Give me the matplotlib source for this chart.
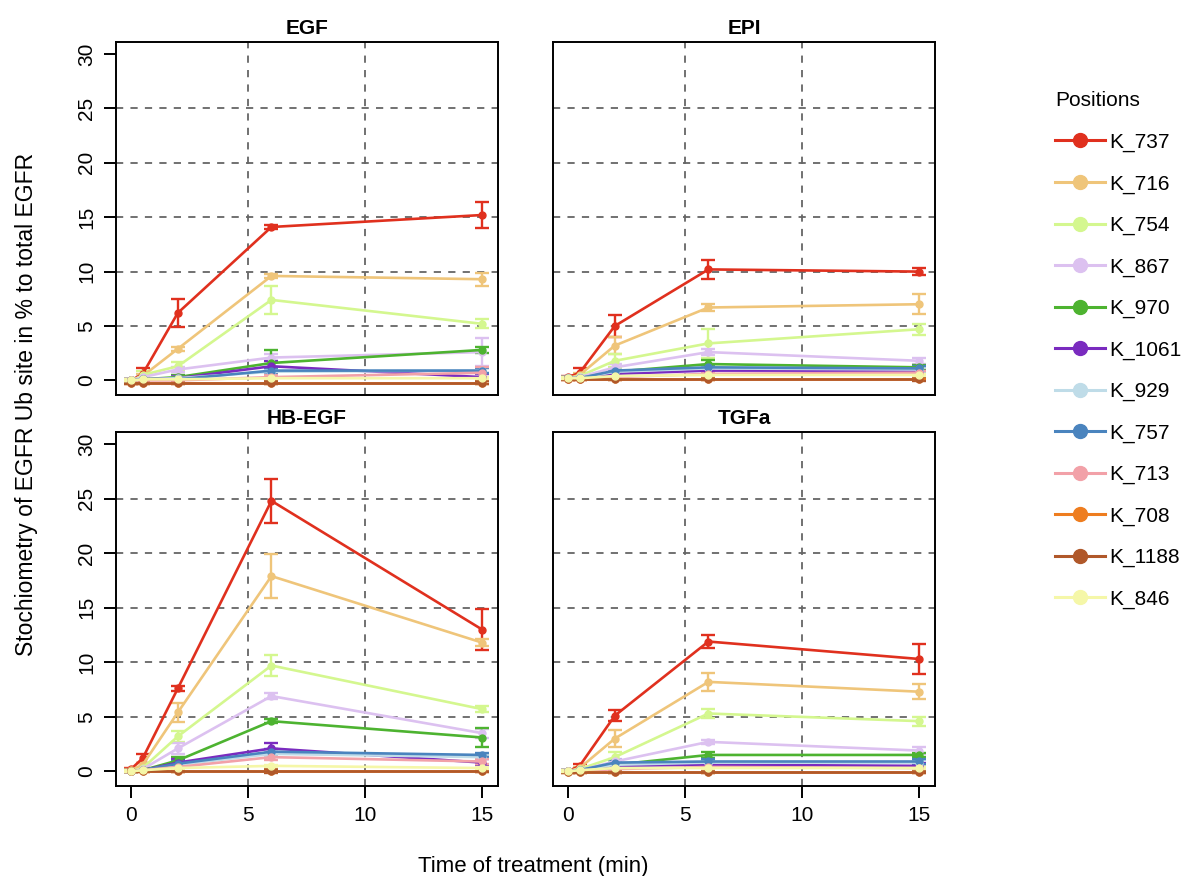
import matplotlib
matplotlib.use('Agg')
import matplotlib.pyplot as plt
from matplotlib.lines import Line2D

plt.rcParams['font.family'] = ['Liberation Sans', 'DejaVu Sans']

# Data
positions = ['K_737', 'K_716', 'K_754', 'K_867', 'K_970', 'K_1061',
             'K_929', 'K_757', 'K_713', 'K_708', 'K_1188', 'K_846']
colors = ['#E0301E', '#EFC57A', '#D4F78F', '#DCC1F0', '#4DB330', '#7A2BBF',
          '#BFDCE8', '#4A84BE', '#F2A1A8', '#EE7D1F', '#B0582A', '#F5F7A8']
times = [0, 0.5, 2, 6, 15]
panels = ['EGF', 'EPI', 'HB-EGF', 'TGFa']

egf_mean = [
    [0.0, 0.6, 6.2, 14.1, 15.2],
    [0.0, 0.4, 2.9, 9.6, 9.3],
    [-0.1, 0.5, 1.3, 7.4, 5.2],
    [0.0, 0.3, 1.0, 2.1, 2.6],
    [0.0, 0.1, 0.3, 1.6, 2.8],
    [0.0, 0.1, 0.2, 1.3, 0.3],
    [0.0, 0.1, 0.2, 0.8, 0.9],
    [0.0, 0.1, 0.1, 0.9, 0.9],
    [0.0, 0.0, 0.0, 0.3, 0.7],
    [-0.2, -0.2, -0.2, -0.2, -0.2],
    [-0.2, -0.2, -0.2, -0.2, -0.2],
    [0.0, 0.1, 0.1, 0.2, 0.2],
]
egf_err = [
    [0.1, 0.5, 1.3, 0.2, 1.2],
    [0.1, 0.2, 0.2, 0.2, 0.6],
    [0.1, 0.4, 0.4, 1.3, 0.4],
    [0.1, 0.1, 0.2, 0.3, 1.3],
    [0.1, 0.1, 0.2, 1.2, 0.3],
    [0.1, 0.1, 0.2, 0.5, 0.3],
    [0.1, 0.1, 0.1, 0.2, 0.2],
    [0.1, 0.1, 0.1, 0.2, 0.2],
    [0.1, 0.1, 0.1, 0.2, 0.5],
    [0.1, 0.1, 0.1, 0.1, 0.1],
    [0.1, 0.1, 0.1, 0.1, 0.1],
    [0.1, 0.1, 0.1, 0.1, 0.1],
]

epi_mean = [
    [0.3, 0.7, 5.0, 10.2, 10.0],
    [0.2, 0.5, 3.2, 6.7, 7.0],
    [0.2, 0.4, 1.8, 3.4, 4.7],
    [0.2, 0.3, 1.2, 2.6, 1.8],
    [0.2, 0.2, 0.8, 1.5, 1.2],
    [0.2, 0.2, 0.6, 0.9, 0.9],
    [0.2, 0.2, 0.8, 1.1, 1.0],
    [0.2, 0.2, 0.9, 1.2, 1.1],
    [0.1, 0.1, 0.3, 0.6, 0.7],
    [0.1, 0.1, 0.1, 0.1, 0.1],
    [0.1, 0.1, 0.1, 0.1, 0.1],
    [0.2, 0.2, 0.4, 0.5, 0.5],
]
epi_err = [
    [0.1, 0.4, 1.0, 0.9, 0.3],
    [0.1, 0.2, 0.8, 0.3, 0.9],
    [0.1, 0.1, 0.6, 1.3, 0.5],
    [0.1, 0.1, 0.3, 0.3, 0.3],
    [0.1, 0.1, 0.2, 0.4, 0.2],
    [0.1, 0.1, 0.2, 0.2, 0.3],
    [0.1, 0.1, 0.1, 0.2, 0.2],
    [0.1, 0.1, 0.1, 0.2, 0.2],
    [0.1, 0.1, 0.1, 0.2, 0.2],
    [0.1, 0.1, 0.1, 0.1, 0.1],
    [0.1, 0.1, 0.1, 0.1, 0.2],
    [0.1, 0.1, 0.1, 0.1, 0.1],
]

hbegf_mean = [
    [0.2, 1.2, 7.6, 24.8, 13.0],
    [0.1, 0.6, 5.4, 17.9, 11.8],
    [0.0, 0.3, 3.2, 9.7, 5.7],
    [0.0, 0.2, 2.1, 6.9, 3.5],
    [0.0, 0.1, 1.0, 4.6, 3.1],
    [0.0, 0.1, 0.8, 2.1, 0.8],
    [0.0, 0.1, 0.6, 1.6, 1.3],
    [0.0, 0.1, 0.7, 1.8, 1.5],
    [0.0, 0.1, 0.4, 1.3, 0.9],
    [0.0, 0.0, 0.0, 0.0, 0.0],
    [0.0, 0.0, 0.0, 0.0, 0.0],
    [0.0, 0.1, 0.3, 0.5, 0.3],
]
hbegf_err = [
    [0.1, 0.4, 0.2, 2.0, 1.9],
    [0.1, 0.2, 0.9, 2.0, 0.3],
    [0.1, 0.1, 0.5, 1.0, 0.3],
    [0.1, 0.1, 0.5, 0.3, 0.4],
    [0.1, 0.1, 0.3, 0.2, 0.9],
    [0.1, 0.1, 0.3, 0.5, 0.3],
    [0.1, 0.1, 0.2, 0.2, 0.2],
    [0.1, 0.1, 0.2, 0.2, 0.2],
    [0.1, 0.1, 0.1, 0.3, 0.2],
    [0.1, 0.1, 0.1, 0.1, 0.1],
    [0.1, 0.1, 0.1, 0.2, 0.1],
    [0.1, 0.1, 0.1, 0.1, 0.1],
]

tgfa_mean = [
    [0.0, 0.5, 5.1, 11.9, 10.3],
    [0.0, 0.3, 3.0, 8.2, 7.3],
    [0.0, 0.2, 1.3, 5.3, 4.6],
    [0.0, 0.1, 0.9, 2.7, 1.9],
    [0.0, 0.1, 0.6, 1.5, 1.5],
    [0.0, 0.1, 0.5, 0.6, 0.5],
    [0.0, 0.1, 0.6, 0.8, 0.8],
    [0.0, 0.1, 0.8, 0.9, 0.9],
    [0.0, 0.0, 0.2, 0.4, 0.3],
    [-0.1, -0.1, -0.1, -0.1, -0.1],
    [-0.1, -0.1, -0.1, -0.1, -0.1],
    [0.0, 0.1, 0.3, 0.3, 0.3],
]
tgfa_err = [
    [0.1, 0.2, 0.5, 0.6, 1.4],
    [0.1, 0.1, 0.8, 0.8, 0.7],
    [0.1, 0.1, 0.5, 0.4, 0.4],
    [0.1, 0.1, 0.2, 0.2, 0.3],
    [0.1, 0.1, 0.2, 0.3, 0.2],
    [0.1, 0.1, 0.1, 0.2, 0.3],
    [0.1, 0.1, 0.1, 0.2, 0.2],
    [0.1, 0.1, 0.2, 0.2, 0.2],
    [0.1, 0.1, 0.1, 0.1, 0.1],
    [0.1, 0.1, 0.1, 0.1, 0.1],
    [0.1, 0.1, 0.1, 0.1, 0.1],
    [0.1, 0.1, 0.1, 0.1, 0.1],
]

means = [egf_mean, epi_mean, hbegf_mean, tgfa_mean]
errs = [egf_err, epi_err, hbegf_err, tgfa_err]

fig = plt.figure(figsize=(11.9, 8.76), dpi=100)

# panel boxes (left, bottom, width, height) in figure fractions
boxes = [
    [0.0975, 0.549, 0.321, 0.403],
    [0.4647, 0.549, 0.321, 0.403],
    [0.0975, 0.1027, 0.321, 0.404],
    [0.4647, 0.1027, 0.321, 0.404],
]

for i, name in enumerate(panels):
    ax = fig.add_axes(boxes[i])
    for k in range(len(positions)):
        ax.errorbar(times, means[i][k], yerr=errs[i][k], color=colors[k],
                    lw=1.9, marker='o', markersize=5, capsize=5,
                    elinewidth=1.7, capthick=1.7, zorder=3)
    for v in [5, 10]:
        ax.axvline(v, color='#666666', ls=(0, (4, 4)), lw=1.3, zorder=1)
    for v in [5, 10, 15, 20, 25]:
        ax.axhline(v, color='#666666', ls=(0, (4, 4)), lw=1.3, zorder=1)
    ax.set_xlim(-0.64, 15.68)
    ax.set_ylim(-1.35, 31.1)
    ax.set_title(name, fontsize=15, fontweight='bold', pad=6)
    for s in ax.spines.values():
        s.set_linewidth(1.4)
    ax.tick_params(direction='out', length=8.5, width=1.4, labelsize=15,
                   pad=6)
    if i in (0, 2):
        ax.set_yticks([0, 5, 10, 15, 20, 25, 30])
        plt.setp(ax.get_yticklabels(), rotation=90, va='center')
    else:
        ax.set_yticks([])
    if i in (2, 3):
        ax.set_xticks([0, 5, 10, 15])
    else:
        ax.set_xticks([])

fig.text(0.448, 0.011, 'Time of treatment (min)', ha='center', va='center',
         fontsize=16)
fig.text(0.022, 0.538, 'Stochiometry of EGFR Ub site in % to total EGFR',
         ha='center', va='center', rotation=90, fontsize=16.5)

handles = [Line2D([0], [0], color=c, lw=2.2, marker='o', markersize=10)
           for c in colors]
fig.legend(handles, positions, title='Positions', loc='upper left',
           bbox_to_anchor=(0.871, 0.917), frameon=False, fontsize=15,
           title_fontsize=15, handlelength=2.4, labelspacing=1.07,
           handletextpad=0.2, alignment='left')

fig.savefig('out.png', dpi=100)
